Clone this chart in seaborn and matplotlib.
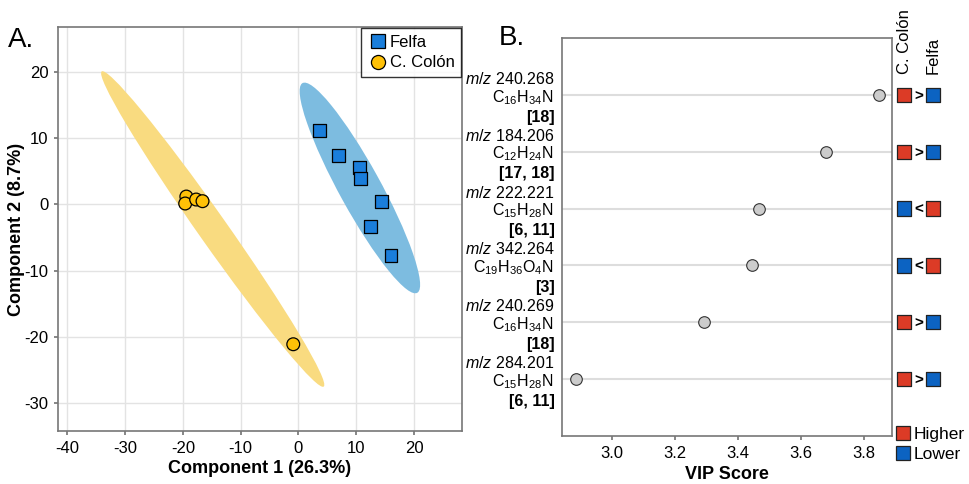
import numpy as np
import pandas as pd
import matplotlib.pyplot as plt
import seaborn as sns
from matplotlib.patches import Ellipse

sns.set_theme(style="whitegrid")
plt.rcParams['font.family'] = ['Liberation Sans', 'DejaVu Sans']
plt.rcParams['mathtext.fontset'] = 'custom'
plt.rcParams['mathtext.rm'] = 'Liberation Sans'
plt.rcParams['mathtext.it'] = 'Liberation Sans:italic'
plt.rcParams['mathtext.bf'] = 'Liberation Sans:bold'
plt.rcParams['axes.unicode_minus'] = False
plt.rcParams['text.color'] = 'black'
plt.rcParams['axes.labelcolor'] = 'black'
plt.rcParams['xtick.labelcolor'] = 'black'
plt.rcParams['ytick.labelcolor'] = 'black'

# --- Panel A: PLS-DA scores ---
felfa_x = [3.6, 6.9, 10.5, 10.7, 14.3, 12.4, 16.0]
felfa_y = [11.2, 7.4, 5.6, 3.9, 0.4, -3.3, -7.7]
colon_x = [-19.4, -19.6, -17.7, -16.6, -0.9]
colon_y = [1.2, 0.15, 0.75, 0.5, -21.1]
groups = ["Felfa", "C. Colón"]
group_colors = {"Felfa": "#1A7EDB", "C. Colón": "#FFC107"}
ellipse_colors = {"Felfa": "#7DBCE0", "C. Colón": "#F9DB80"}
group_markers = {"Felfa": "s", "C. Colón": "o"}

# --- Panel B: VIP scores ---
mz = ["240.268", "184.206", "222.221", "342.264", "240.269", "284.201"]
formulas = ["C$_{16}$H$_{34}$N", "C$_{12}$H$_{24}$N", "C$_{15}$H$_{28}$N",
            "C$_{19}$H$_{36}$O$_{4}$N", "C$_{16}$H$_{34}$N", "C$_{15}$H$_{28}$N"]
refs = ["[18]", "[17, 18]", "[6, 11]", "[3]", "[18]", "[6, 11]"]
vip = [3.847, 3.679, 3.466, 3.443, 3.293, 2.885]
colon_level = ["Higher", "Higher", "Lower", "Lower", "Higher", "Higher"]
level_colors = {"Higher": "#DC3B26", "Lower": "#0C63C2"}

scores = pd.DataFrame({
    "x": felfa_x + colon_x,
    "y": felfa_y + colon_y,
    "group": ["Felfa"] * len(felfa_x) + ["C. Colón"] * len(colon_x),
})

fig = plt.figure(figsize=(9.69, 4.84), dpi=100)
ax_a = fig.add_axes([0.0599, 0.1095, 0.4169, 0.8347])
ax_b = fig.add_axes([0.58, 0.0992, 0.3406, 0.8223])
ax_c = fig.add_axes([0.9236, 0.0992, 0.0516, 0.8223])

# 95% confidence ellipses (chi-square, 2 df)
radius = np.sqrt(-2 * np.log(1 - 0.95))
for g in groups:
    sub = scores[scores.group == g][["x", "y"]].to_numpy()
    cov = np.cov(sub, rowvar=False)
    vals, vecs = np.linalg.eigh(cov)
    angle = np.degrees(np.arctan2(vecs[1, 1], vecs[0, 1]))
    ell = Ellipse(sub.mean(axis=0), 2 * radius * np.sqrt(vals[1]), 2 * radius * np.sqrt(vals[0]),
                  angle=angle, facecolor=ellipse_colors[g], edgecolor="none", zorder=1)
    ax_a.add_patch(ell)

sns.scatterplot(data=scores, x="x", y="y", hue="group", style="group",
                hue_order=groups, style_order=groups, palette=group_colors,
                markers=group_markers, s=85, edgecolor="black", linewidth=0.9,
                zorder=3, ax=ax_a)
ax_a.set_xlim(-41.6, 28.3)
ax_a.set_ylim(-34.2, 26.8)
ax_a.set_xticks([-40, -30, -20, -10, 0, 10, 20])
ax_a.set_yticks([-30, -20, -10, 0, 10, 20])
ax_a.set_xlabel("Component 1 (26.3%)", fontsize=13, fontweight="bold", labelpad=3)
ax_a.set_ylabel("Component 2 (8.7%)", fontsize=13, fontweight="bold")
ax_a.yaxis.set_label_coords(-0.082, 0.5)
ax_a.tick_params(labelsize=12, length=3, color="#777777", pad=4, bottom=True, left=True)
ax_a.grid(color="#E3E3E3", linewidth=1)
ax_a.set_axisbelow(True)
for s in ax_a.spines.values():
    s.set_color("#777777")
    s.set_linewidth(1.2)
leg = ax_a.legend(loc="upper right", fontsize=12, frameon=True, fancybox=False,
                  handletextpad=0.1, borderpad=0.4, labelspacing=0.35,
                  borderaxespad=0.05, handlelength=1.2, markerscale=1.1)
leg.get_frame().set_edgecolor("black")
leg.get_frame().set_linewidth(1)

# Panel B
rows = np.arange(len(vip), 0, -1)
vip_df = pd.DataFrame({"vip": vip, "row": rows})
for r in rows:
    ax_b.axhline(r, color="#DDDDDD", linewidth=1.5, zorder=1)
sns.scatterplot(data=vip_df, x="vip", y="row", s=70, color="#CCCCCC",
                edgecolor="#333333", linewidth=0.8, zorder=3, ax=ax_b)
ax_b.set_xlim(2.841, 3.889)
ax_b.set_ylim(0, 7)
ax_b.set_xticks([3.0, 3.2, 3.4, 3.6, 3.8])
ax_b.set_yticks(rows)
ax_b.set_yticklabels(formulas)
ax_b.grid(False)
ax_b.tick_params(axis="x", labelsize=12, length=3, color="#777777", pad=4, bottom=True)
ax_b.tick_params(axis="y", labelsize=11.5, length=0, pad=6)
ax_b.set_xlabel("VIP Score", fontsize=13, fontweight="bold", labelpad=4)
ax_b.set_ylabel("")
for s in ax_b.spines.values():
    s.set_color("#777777")
    s.set_linewidth(1.2)
for r, m, ref in zip(rows, mz, refs):
    ax_b.annotate(r"$\it{m/z}$ " + m, xy=(0, r), xycoords=("axes fraction", "data"),
                  xytext=(-5.5, 11.5), textcoords="offset points", ha="right", va="center",
                  fontsize=11.5)
    ax_b.annotate(ref, xy=(0, r), xycoords=("axes fraction", "data"),
                  xytext=(-5.5, -16), textcoords="offset points", ha="right", va="center",
                  fontsize=11.5, fontweight="bold")

# Panel C: group comparison indicators
felfa_level = ["Lower" if lv == "Higher" else "Higher" for lv in colon_level]
ind = pd.DataFrame({
    "pos": [0] * len(rows) + [2] * len(rows),
    "row": list(rows) * 2,
    "level": colon_level + felfa_level,
})
sns.scatterplot(data=ind, x="pos", y="row", hue="level", hue_order=["Higher", "Lower"],
                palette=level_colors, marker="s", s=105, edgecolor="#222222",
                linewidth=0.9, ax=ax_c, clip_on=False)
for r, lv in zip(rows, colon_level):
    ax_c.text(1, r - 0.03, ">" if lv == "Higher" else "<", ha="center", va="center",
              fontsize=11, fontweight="bold")
ax_c.set_xlim(-0.65, 2.85)
ax_c.set_ylim(0, 7)
ax_c.axis("off")
ax_c.text(0, 6.36, "C. Colón", rotation=90, ha="center", va="bottom", fontsize=12)
ax_c.text(2, 6.36, "Felfa", rotation=90, ha="center", va="bottom", fontsize=12)
sns.move_legend(ax_c, "upper left", bbox_to_anchor=(-0.04, 0.022), title=None,
                frameon=False, fontsize=12.5, handletextpad=0.0, labelspacing=0.25,
                borderpad=0, borderaxespad=0, handlelength=1.2,
                markerscale=1.0)

fig.text(0.008, 1 - 40 / 484, "A.", fontsize=20, va="center")
fig.text(0.515, 1 - 38 / 484, "B.", fontsize=20, va="center")

fig.savefig("out.png", dpi=100)
